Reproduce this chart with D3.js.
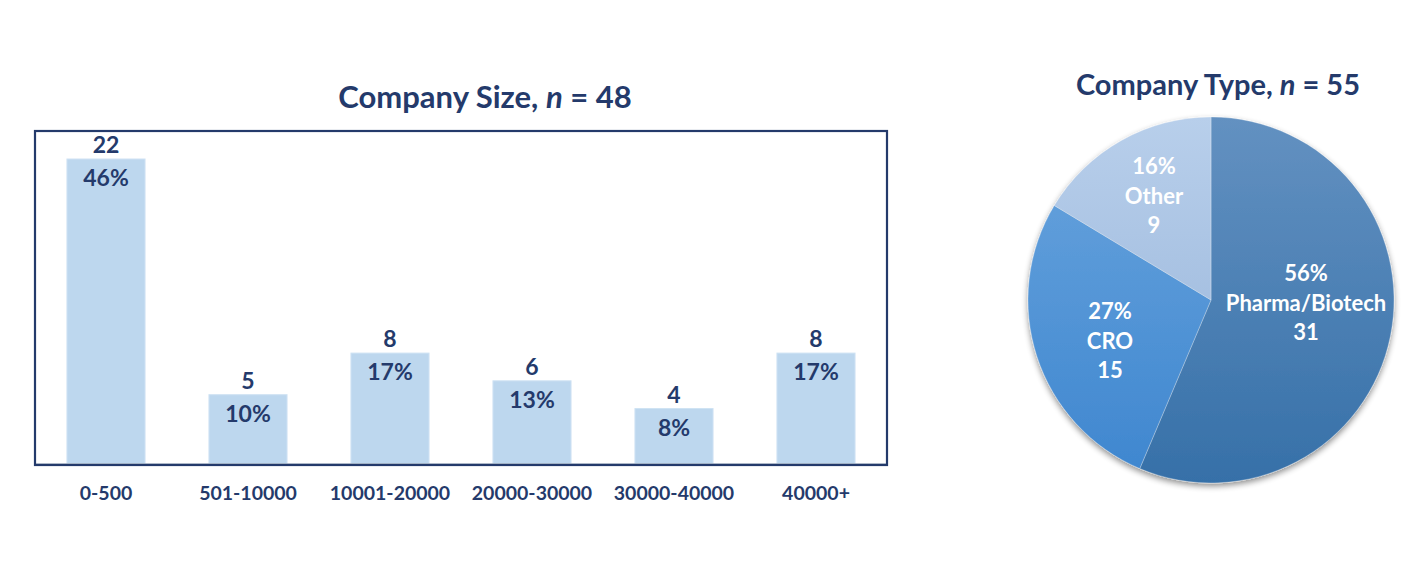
<!DOCTYPE html>
<html><head><meta charset="utf-8">
<script src="https://cdn.jsdelivr.net/npm/d3@7"></script>
<style>
html,body{margin:0;padding:0;background:#fff;}
svg{display:block;font-family:Lato,"Open Sans",sans-serif;font-weight:bold;}
</style></head>
<body>
<svg id="c" width="1424" height="584"></svg>
<script>
const sizeCategories = ["0-500","501-10000","10001-20000","20000-30000","30000-40000","40000+"];
const sizeCounts = [22,5,8,6,4,8];
const sizePercents = ["46%","10%","17%","13%","8%","17%"];
const typeCategories = ["Pharma/Biotech","CRO","Other"];
const typeCounts = [31,15,9];
const typePercents = ["56%","27%","16%"];

const navy = "#243a6b";
const svg = d3.select("#c");
const defs = svg.append("defs");

// ---- Bar chart ----
const fx0 = 35, fx1 = 887, fy0 = 131, fy1 = 465;
const x = d3.scaleBand().domain(sizeCategories).range([fx0, fx1]).paddingInner(0.45).paddingOuter(0.225);
const y = d3.scaleLinear().domain([0, 22]).range([464, 159]);

svg.append("text").attr("x", 485).attr("y", 108).attr("text-anchor","middle")
  .attr("fill", navy).attr("font-size", 31)
  .call(t => { t.append("tspan").text("Company Size, "); t.append("tspan").attr("font-style","italic").text("n"); t.append("tspan").text(" = 48"); });

svg.selectAll("rect.bar").data(sizeCounts).join("rect").attr("class","bar")
  .attr("x", (d,i) => x(sizeCategories[i])).attr("width", x.bandwidth())
  .attr("y", d => y(d)).attr("height", d => y(0) - y(d))
  .attr("fill", "#bdd7ee").attr("stroke","#cfe2f3").attr("stroke-width",1);

// baseline
svg.append("line").attr("x1", fx0).attr("x2", fx1).attr("y1", 464).attr("y2", 464).attr("stroke","#a9b4c4").attr("stroke-width",1.5);
// frame
svg.append("rect").attr("x", fx0).attr("y", fy0).attr("width", fx1-fx0).attr("height", fy1-fy0)
  .attr("fill","none").attr("stroke", navy).attr("stroke-width", 2.2);

svg.selectAll("text.cnt").data(sizeCounts).join("text").attr("class","cnt")
  .attr("x", (d,i) => x(sizeCategories[i]) + x.bandwidth()/2).attr("y", d => y(d) - 6)
  .attr("text-anchor","middle").attr("fill", navy).attr("font-size", 23).text(d => d);
svg.selectAll("text.pct").data(sizeCounts).join("text").attr("class","pct")
  .attr("x", (d,i) => x(sizeCategories[i]) + x.bandwidth()/2).attr("y", d => y(d) + 27)
  .attr("text-anchor","middle").attr("fill", navy).attr("font-size", 23).text((d,i) => sizePercents[i]);

const xAxis = svg.append("g").attr("transform", `translate(0,${fy1})`)
  .call(d3.axisBottom(x).tickSize(0).tickPadding(21));
xAxis.select(".domain").remove();
xAxis.selectAll("text").attr("fill", navy).attr("font-size", 19.5).attr("font-family","Lato,sans-serif").attr("font-weight","bold");

// ---- Pie chart ----
const cx = 1211, cy = 300, r = 183;
svg.append("text").attr("x", 1218).attr("y", 95).attr("text-anchor","middle")
  .attr("fill", navy).attr("font-size", 29)
  .call(t => { t.append("tspan").text("Company Type, "); t.append("tspan").attr("font-style","italic").text("n"); t.append("tspan").text(" = 55"); });

const grads = [["#6391c1","#3670a8"],["#6aa5de","#3e86cf"],["#b8cfeb","#95b2d8"]];
grads.forEach((g,i) => {
  const lg = defs.append("linearGradient").attr("id","g"+i).attr("gradientUnits","userSpaceOnUse")
    .attr("x1",0).attr("y1",-r).attr("x2",0).attr("y2",r);
  lg.append("stop").attr("offset","0%").attr("stop-color", g[0]);
  lg.append("stop").attr("offset","100%").attr("stop-color", g[1]);
});
const f = defs.append("filter").attr("id","sh").attr("x","-10%").attr("y","-10%").attr("width","120%").attr("height","125%");
f.append("feGaussianBlur").attr("in","SourceAlpha").attr("stdDeviation",3);
f.append("feOffset").attr("dy",3).attr("result","b");
f.append("feComponentTransfer").append("feFuncA").attr("type","linear").attr("slope",0.45);
const m = f.append("feMerge"); m.append("feMergeNode"); m.append("feMergeNode").attr("in","SourceGraphic");

const pie = d3.pie().sort(null).value(d => d);
const arcs = pie(typeCounts);
const arc = d3.arc().innerRadius(0).outerRadius(r);
const pg = svg.append("g").attr("transform", `translate(${cx},${cy})`).attr("filter","url(#sh)");
pg.selectAll("path").data(arcs).join("path")
  .attr("d", arc).attr("fill", (d,i) => `url(#g${i})`)
  .attr("stroke","rgba(255,255,255,0.35)").attr("stroke-width",0.8);

const labelPos = [[1306,273],[1110,311],[1154,166]];
arcs.forEach((a,i) => {
  const [lx, ly] = labelPos[i];
  const t = svg.append("text").attr("text-anchor","middle").attr("fill","#fff").attr("font-size", 22);
  [typePercents[i], typeCategories[i], String(typeCounts[i])].forEach((s,k) => {
    t.append("tspan").attr("x", lx).attr("y", ly + 8 + k*29.5).text(s);
  });
});
</script>
</body></html>
